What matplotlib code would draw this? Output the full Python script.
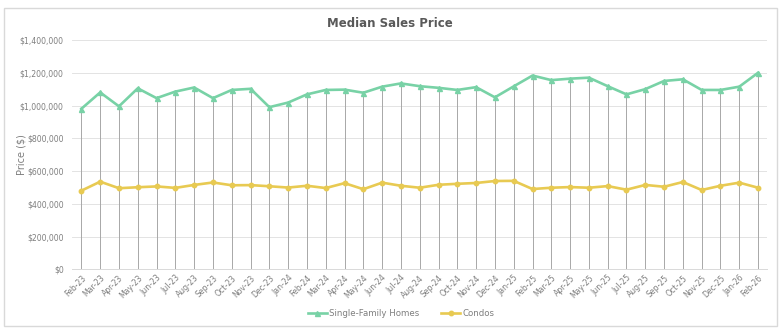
import matplotlib
matplotlib.use("Agg")
import matplotlib.pyplot as plt
from matplotlib.patches import Rectangle
from matplotlib.ticker import FuncFormatter

months = ["Feb-23", "Mar-23", "Apr-23", "May-23", "Jun-23", "Jul-23", "Aug-23", "Sep-23",
          "Oct-23", "Nov-23", "Dec-23", "Jan-24", "Feb-24", "Mar-24", "Apr-24", "May-24",
          "Jun-24", "Jul-24", "Aug-24", "Sep-24", "Oct-24", "Nov-24", "Dec-24", "Jan-25",
          "Feb-25", "Mar-25", "Apr-25", "May-25", "Jun-25", "Jul-25", "Aug-25", "Sep-25",
          "Oct-25", "Nov-25", "Dec-25", "Jan-26", "Feb-26"]

single_family = [980000, 1080000, 995000, 1105000, 1045000, 1085000, 1110000, 1045000,
                 1095000, 1102000, 990000, 1018000, 1068000, 1095000, 1097000, 1078000,
                 1115000, 1135000, 1118000, 1108000, 1095000, 1112000, 1050000, 1117000,
                 1183000, 1155000, 1164000, 1170000, 1118000, 1068000, 1100000, 1150000,
                 1160000, 1095000, 1095000, 1115000, 1200000]

condos = [480000, 535000, 495000, 501000, 506000, 497000, 515000, 530000,
          513000, 514000, 507000, 499000, 510000, 496000, 526000, 489000,
          529000, 510000, 498000, 516000, 522000, 527000, 539000, 540000,
          490000, 498000, 502000, 498000, 508000, 486000, 515000, 504000,
          533000, 484000, 510000, 529000, 498000]

yticks = [0, 200000, 400000, 600000, 800000, 1000000, 1200000, 1400000]

green = "#78d2a6"
yellow = "#e8ca52"
text_gray = "#7f7f7f"

fig = plt.figure(figsize=(7.79, 3.29), dpi=100)
fig.patches.append(Rectangle((0.0051, 0.010), 0.9919, 0.9657, transform=fig.transFigure,
                             fill=False, edgecolor="#d9d9d9", linewidth=1.0))

ax = fig.add_axes([0.0924, 0.1815, 0.8928, 0.6969])
x = list(range(len(months)))

ax.vlines(x, 0, single_family, colors="#a8a8a8", linewidth=0.7, zorder=2)
ax.plot(x, single_family, color=green, linewidth=1.9, marker="^", markersize=3.6,
        label="Single-Family Homes", zorder=4)
ax.plot(x, condos, color=yellow, linewidth=1.9, marker="o", markersize=3.2,
        label="Condos", zorder=4)

ax.set_xlim(-0.5, len(months) - 0.5)
ax.set_ylim(0, 1400000)
ax.set_yticks(yticks)
ax.yaxis.set_major_formatter(FuncFormatter(lambda v, p: "$0" if v == 0 else f"${v:,.0f}"))
ax.grid(axis="y", color="#e3e3e3", linewidth=0.7, zorder=0)
ax.set_axisbelow(True)
for s in ["top", "right", "left"]:
    ax.spines[s].set_visible(False)
ax.spines["bottom"].set_color("#d9d9d9")
ax.spines["bottom"].set_linewidth(0.7)

ax.set_xticks(x)
ax.set_xticklabels(months, rotation=45, ha="right", va="top", rotation_mode="anchor",
                   fontsize=5.6, color=text_gray)
ax.tick_params(axis="x", length=0, pad=3)
ax.tick_params(axis="y", length=0, pad=6, labelsize=5.6, labelcolor=text_gray)

fig.text(0.5, 0.930, "Median Sales Price", ha="center", va="center", fontsize=8.5,
         fontweight="bold", color="#595959")
fig.text(0.028, 0.53, "Price ($)", rotation=90, ha="center", va="center", fontsize=7,
         color=text_gray)

fig.legend(loc="center", bbox_to_anchor=(0.515, 0.048), ncol=2, frameon=False,
           fontsize=6.2, labelcolor=text_gray, handlelength=2.2, columnspacing=2.5,
           handletextpad=0.3)

fig.savefig("out.png", dpi=100, facecolor="white")
